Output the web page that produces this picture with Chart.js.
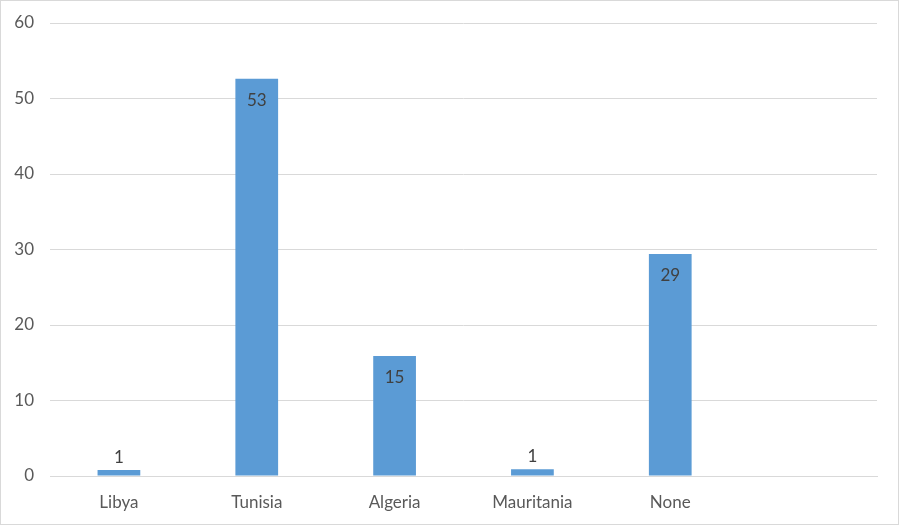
<!DOCTYPE html>
<html lang="en">
<head>
    <meta charset="UTF-8">
    <title>Bar Chart</title>
    <script src="https://cdn.jsdelivr.net/npm/chart.js"></script>
    <style>
        body {
            margin: 0;
            background-color: #fff;
        }

        .chart-box {
            width: 899px;
            height: 525px;
            box-sizing: border-box;
            border: 1px solid #d9d9d9;
        }

        canvas {
            display: block;
        }
    </style>
</head>
<body>

    <div class="chart-box">
        <canvas id="barChart" width="897" height="523"></canvas>
    </div>

    <script>
        // chart data
        const categories = ['Libya', 'Tunisia', 'Algeria', 'Mauritania', 'None', ''];
        const values = [0.8, 52.6, 15.9, 0.9, 29.4, null];
        const valueLabels = ['1', '53', '15', '1', '29', ''];
        const yTicks = [0, 10, 20, 30, 40, 50, 60];

        const fontFamily = 'Lato, "Open Sans", sans-serif';

        // 값 라벨 그리기
        const labelPlugin = {
            id: 'valueLabels',
            afterDatasetsDraw(chart) {
                const ctx = chart.ctx;
                const meta = chart.getDatasetMeta(0);
                ctx.save();
                ctx.font = '17px ' + fontFamily;
                ctx.fillStyle = '#404040';
                ctx.textAlign = 'center';
                meta.data.forEach((bar, i) => {
                    if (values[i] === null) return;
                    if (values[i] > 5) {
                        ctx.textBaseline = 'top';
                        ctx.fillText(valueLabels[i], bar.x, bar.y + 13);
                    } else {
                        ctx.textBaseline = 'bottom';
                        ctx.fillText(valueLabels[i], bar.x, bar.y - 4);
                    }
                });
                ctx.restore();
            }
        };

        const ctx = document.getElementById('barChart').getContext('2d');
        new Chart(ctx, {
            type: 'bar',
            data: {
                labels: categories,
                datasets: [{
                    data: values,
                    backgroundColor: '#5b9bd5',
                    borderWidth: 0,
                    categoryPercentage: 1,
                    barPercentage: 0.31
                }]
            },
            options: {
                responsive: false,
                animation: false,
                layout: {
                    padding: { top: 22, right: 21, left: 0, bottom: 0 }
                },
                scales: {
                    y: {
                        min: 0,
                        max: 60,
                        afterFit(scale) {
                            scale.width = 49;
                            scale.paddingTop = 0;
                            scale.paddingBottom = 0;
                        },
                        afterBuildTicks(scale) {
                            scale.ticks = yTicks.map(v => ({ value: v }));
                        },
                        border: { display: false },
                        grid: {
                            color: '#d9d9d9',
                            lineWidth: 1,
                            drawTicks: false
                        },
                        ticks: {
                            padding: 16,
                            color: '#595959',
                            font: { size: 17, family: fontFamily }
                        }
                    },
                    x: {
                        afterFit(scale) {
                            scale.height = 48;
                            scale.paddingLeft = 0;
                            scale.paddingRight = 0;
                        },
                        border: { display: true, color: '#d9d9d9', width: 1 },
                        grid: { display: false },
                        ticks: {
                            padding: 8,
                            color: '#595959',
                            maxRotation: 0,
                            font: { size: 17, family: fontFamily }
                        }
                    }
                },
                plugins: {
                    legend: { display: false },
                    tooltip: { enabled: false }
                }
            },
            plugins: [labelPlugin]
        });
    </script>

</body>
</html>
